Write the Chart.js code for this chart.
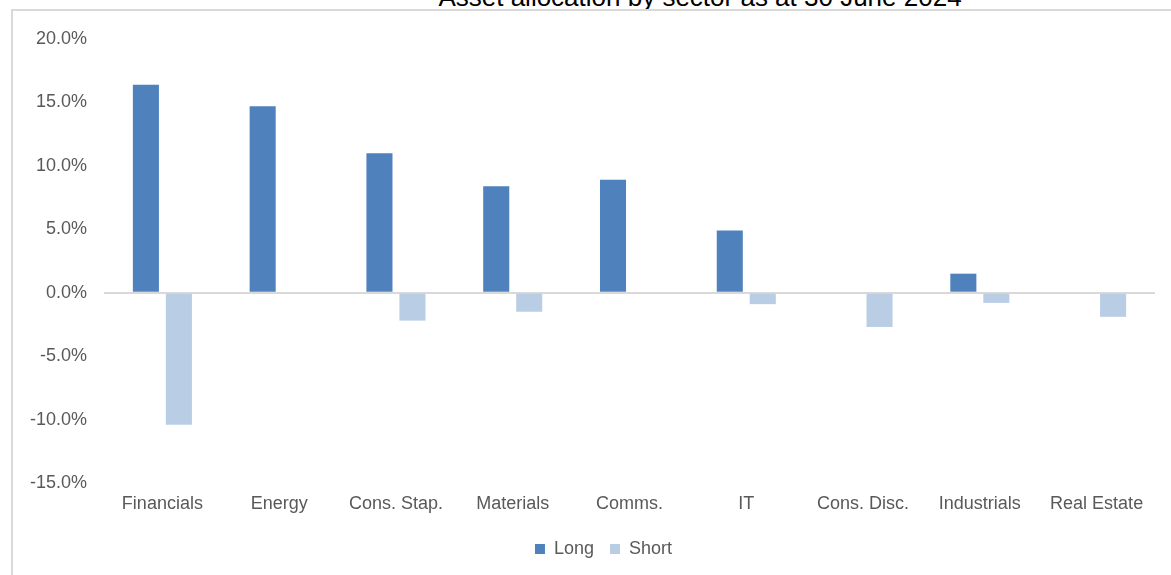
<!DOCTYPE html>
<html>
<head>
<meta charset="utf-8">
<script src="https://cdn.jsdelivr.net/npm/chart.js@4.4.1/dist/chart.umd.min.js"></script>
<style>
  html, body { margin: 0; padding: 0; background: #fff; overflow: hidden; }
  #wrap { position: relative; width: 1171px; height: 575px; overflow: hidden; }
  #title {
    position: absolute; left: 0; top: -16px; width: 1400px;
    text-align: center; font: 26px/26px "Liberation Sans", Arial, sans-serif; color: #000;
  }
  #frame {
    position: absolute; left: 11px; top: 9px; width: 2000px; height: 2000px;
    border-top: 2px solid #d9d9d9; border-left: 2px solid #d9d9d9; pointer-events: none;
  }
  canvas { position: absolute; left: 0; top: 0; }
</style>
</head>
<body>
<div id="wrap">
  <div id="title">Asset allocation by sector as at 30 June 2024</div>
  <canvas id="allocChart" width="1171" height="575"></canvas>
  <div id="frame"></div>
</div>
<script>
// Sector weights (% of NAV)
const sectors = ['Financials', 'Energy', 'Cons. Stap.', 'Materials', 'Comms.', 'IT', 'Cons. Disc.', 'Industrials', 'Real Estate'];
const longWeights = [16.4, 14.7, 11.0, 8.4, 8.9, 4.9, 0, 1.5, 0];
const shortWeights = [-10.4, 0, -2.2, -1.5, 0, -0.9, -2.7, -0.8, -1.9];
const axisMin = -15;
const axisMax = 20;
const axisStep = 5;

const fontFamily = '"Liberation Sans", Arial, sans-serif';
const textGrey = '#595959';

// the legend in the original sits a bit right of centre
const legendShift = {
    id: 'legendShift',
    afterLayout(chart) {
        chart.legend.left += 26;
        chart.legend.right += 26;
    }
};

const ctx = document.getElementById('allocChart').getContext('2d');
const allocChart = new Chart(ctx, {
    type: 'bar',
    data: {
        labels: sectors,
        datasets: [{
            label: 'Long',
            data: longWeights,
            backgroundColor: '#4F81BD',
            borderWidth: 0
        }, {
            label: 'Short',
            data: shortWeights,
            backgroundColor: '#B9CDE5',
            borderWidth: 0
        }]
    },
    options: {
        responsive: false,
        animation: false,
        categoryPercentage: 0.565,
        barPercentage: 0.79,
        layout: {
            padding: { top: 39, right: 16, left: 0, bottom: 7 }
        },
        scales: {
            x: {
                grid: { display: false },
                border: { display: false },
                ticks: {
                    color: textGrey,
                    font: { family: fontFamily, size: 18 },
                    padding: 2,
                    maxRotation: 0,
                    autoSkip: false
                },
                afterFit: (scale) => { scale.height = 41; }
            },
            y: {
                min: axisMin,
                max: axisMax,
                border: { display: false },
                grid: {
                    drawTicks: false,
                    lineWidth: 2,
                    color: (c) => (c.tick && c.tick.value === 0 ? '#d9d9d9' : 'rgba(0,0,0,0)')
                },
                ticks: {
                    stepSize: axisStep,
                    color: textGrey,
                    font: { family: fontFamily, size: 18 },
                    padding: 17,
                    callback: (v) => v.toFixed(1) + '%'
                },
                afterFit: (scale) => { scale.width = 104; }
            }
        },
        plugins: {
            legend: {
                display: true,
                position: 'bottom',
                labels: {
                    boxWidth: 10,
                    boxHeight: 10,
                    padding: 16,
                    color: textGrey,
                    font: { family: fontFamily, size: 18 }
                }
            },
            tooltip: { enabled: false }
        }
    },
    plugins: [legendShift]
});
</script>
</body>
</html>
